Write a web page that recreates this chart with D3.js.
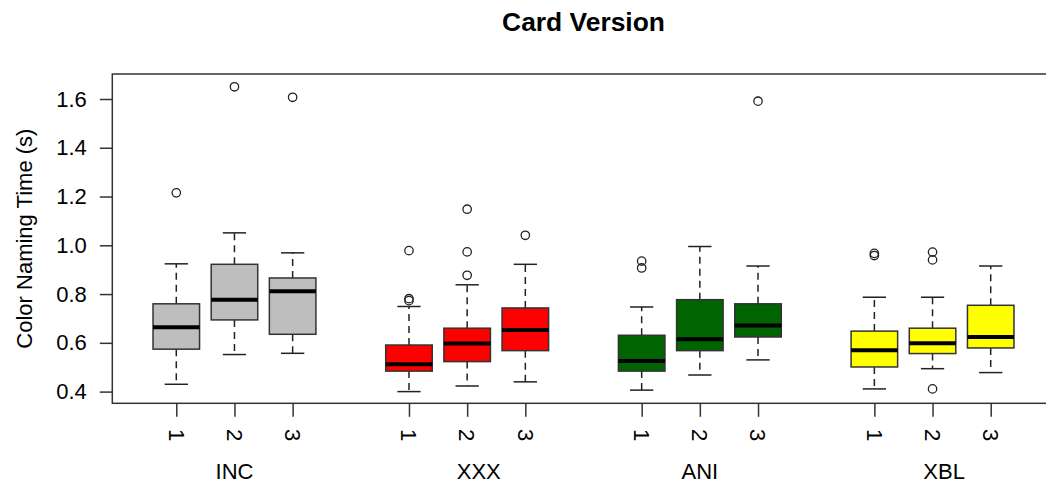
<!DOCTYPE html>
<html>
<head>
<meta charset="utf-8">
<script src="https://cdn.jsdelivr.net/npm/d3@7"></script>
<style>
  html, body { margin: 0; padding: 0; background: #fff; }
  svg { display: block; }
  text { font-family: "Liberation Sans", Arial, sans-serif; fill: #000; }
</style>
</head>
<body>
<svg id="chart" width="1046" height="484"></svg>
<script>
// ---- data ----
const groups = ["INC", "XXX", "ANI", "XBL"];
const groupLabelPos = [2, 6.2, 10, 14.2];
const subLabels = ["1", "2", "3", "1", "2", "3", "1", "2", "3", "1", "2", "3"];
const positions = [1, 2, 3, 5, 6, 7, 9, 10, 11, 13, 14, 15];
const boxGroup = [0, 0, 0, 1, 1, 1, 2, 2, 2, 3, 3, 3];
const groupColors = ["#BEBEBE", "#FF0000", "#006400", "#FFFF00"];
const lowerWhisker = [0.430, 0.552, 0.557, 0.400, 0.423, 0.440, 0.406, 0.468, 0.530, 0.411, 0.494, 0.478];
const q1           = [0.574, 0.694, 0.635, 0.484, 0.523, 0.568, 0.484, 0.568, 0.624, 0.501, 0.556, 0.579];
const medians      = [0.664, 0.777, 0.812, 0.512, 0.597, 0.653, 0.525, 0.615, 0.671, 0.570, 0.598, 0.624];
const q3           = [0.760, 0.922, 0.866, 0.591, 0.660, 0.743, 0.631, 0.777, 0.760, 0.648, 0.660, 0.754];
const upperWhisker = [0.924, 1.051, 0.969, 0.749, 0.838, 0.922, 0.747, 0.995, 0.915, 0.787, 0.787, 0.915];
const outliers = [
  [1.215],
  [1.650],
  [1.607],
  [0.978, 0.781, 0.773],
  [1.148, 0.973, 0.877],
  [1.041],
  [0.935, 0.907],
  [],
  [1.591],
  [0.967, 0.958],
  [0.972, 0.940, 0.411],
  []
];
const yTicks = [0.4, 0.6, 0.8, 1.0, 1.2, 1.4, 1.6];
const title = "Card Version";
const yLabel = "Color Naming Time (s)";

// ---- layout ----
const svg = d3.select("#chart");
const plotLeft = 112.3, plotRight = 1054.7, plotTop = 74, plotBottom = 403.3;
const x = d3.scaleLinear().domain([-0.1, 16.1]).range([plotLeft, plotRight]);
const y = d3.scaleLinear().domain([0.352, 1.7025]).range([plotBottom, plotTop]);
const unit = x(1) - x(0);
const boxW = unit * 0.8;
const capW = boxW * 0.5;
const stroke = "#222";

// title
svg.append("text")
  .attr("x", (plotLeft + plotRight) / 2)
  .attr("y", 30.5)
  .attr("text-anchor", "middle")
  .style("font-size", "26.4px")
  .style("font-weight", "bold")
  .text(title);

// boxes
const data = positions.map((p, i) => ({
  p, g: boxGroup[i], lw: lowerWhisker[i], q1: q1[i], med: medians[i],
  q3: q3[i], uw: upperWhisker[i], out: outliers[i]
}));

const bx = svg.append("g");
data.forEach(d => {
  const cx = x(d.p);
  const g = bx.append("g");
  // whiskers (dashed, from box edge outwards)
  g.append("line")
    .attr("x1", cx).attr("x2", cx)
    .attr("y1", y(d.q1)).attr("y2", y(d.lw))
    .attr("stroke", stroke).attr("stroke-width", 1.5)
    .attr("stroke-dasharray", "7,5");
  g.append("line")
    .attr("x1", cx).attr("x2", cx)
    .attr("y1", y(d.q3)).attr("y2", y(d.uw))
    .attr("stroke", stroke).attr("stroke-width", 1.5)
    .attr("stroke-dasharray", "7,5");
  // caps
  [d.lw, d.uw].forEach(v => {
    g.append("line")
      .attr("x1", cx - capW / 2).attr("x2", cx + capW / 2)
      .attr("y1", y(v)).attr("y2", y(v))
      .attr("stroke", stroke).attr("stroke-width", 1.5);
  });
  // box
  g.append("rect")
    .attr("x", cx - boxW / 2)
    .attr("y", y(d.q3))
    .attr("width", boxW)
    .attr("height", y(d.q1) - y(d.q3))
    .attr("fill", groupColors[d.g])
    .attr("stroke", "#333").attr("stroke-width", 1.5);
  // median
  g.append("line")
    .attr("x1", cx - boxW / 2).attr("x2", cx + boxW / 2)
    .attr("y1", y(d.med)).attr("y2", y(d.med))
    .attr("stroke", "#000").attr("stroke-width", 4);
  // outliers
  g.selectAll("circle").data(d.out).enter().append("circle")
    .attr("cx", cx).attr("cy", v => y(v)).attr("r", 4.2)
    .attr("fill", "none").attr("stroke", stroke).attr("stroke-width", 1.3);
});

// frame
svg.append("rect")
  .attr("x", plotLeft).attr("y", plotTop)
  .attr("width", plotRight - plotLeft).attr("height", plotBottom - plotTop)
  .attr("fill", "none").attr("stroke", "#333").attr("stroke-width", 1.5);

// y axis
const yAxis = d3.axisLeft(y).tickValues(yTicks).tickSize(12.5).tickPadding(13)
  .tickFormat(d3.format(".1f"));
const gy = svg.append("g").attr("transform", `translate(${plotLeft},0)`).call(yAxis);
gy.select(".domain").remove();
gy.selectAll(".tick line").attr("stroke", "#333").attr("stroke-width", 1.5);
gy.selectAll(".tick text")
  .style("font-size", "22px")
  .style("font-family", "'Liberation Sans', Arial, sans-serif")
  .attr("fill", "#000");

// x axis ticks
const xAxis = d3.axisBottom(x).tickValues(positions).tickSize(13.5).tickFormat("");
const gx = svg.append("g").attr("transform", `translate(0,${plotBottom})`).call(xAxis);
gx.select(".domain").remove();
gx.selectAll(".tick line").attr("stroke", "#333").attr("stroke-width", 1.5);

// rotated sub labels
svg.append("g").selectAll("text").data(positions).enter().append("text")
  .attr("transform", (p) => `translate(${x(p)},435) rotate(90)`)
  .attr("text-anchor", "middle")
  .attr("dy", "0.35em")
  .style("font-size", "22px")
  .text((p, i) => subLabels[i]);

// group labels
svg.append("g").selectAll("text").data(groups).enter().append("text")
  .attr("x", (gname, i) => x(groupLabelPos[i]))
  .attr("y", 479)
  .attr("text-anchor", "middle")
  .style("font-size", "22px")
  .text(gname => gname);

// y label
svg.append("text")
  .attr("transform", `translate(32,${(plotTop + plotBottom) / 2}) rotate(-90)`)
  .attr("text-anchor", "middle")
  .style("font-size", "22px")
  .text(yLabel);
</script>
</body>
</html>
